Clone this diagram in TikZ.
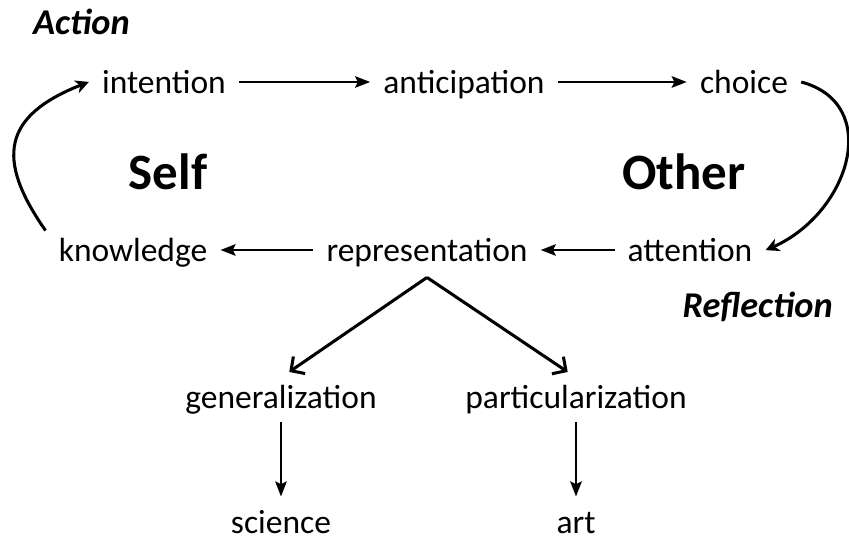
\documentclass[tikz,border=0pt]{standalone}
\usepackage{fontspec}
\setmainfont{Carlito}
\usetikzlibrary{positioning,arrows.meta,bending}
\tikzstyle{arrow} = [line width=2.3pt,-{Stealth[length=0.45cm,width=0.34cm,inset=0.08cm]}]
\tikzstyle{loop} = [line width=2.6pt,-{Stealth[length=0.4cm,width=0.4cm,inset=0.12cm,bend]}]
\tikzstyle{branch} = [line width=2.6pt,-{Straight Barb[length=0.3cm,width=0.62cm]}]

\begin{document}
\begin{tikzpicture}
			\tikzstyle{word} = [inner xsep=0.39cm, inner ysep=0pt, text height=26.5pt, text depth=6.3pt, font=\fontsize{28.6}{34}\selectfont];
			\tikzstyle{side} = [font=\fontsize{43.5}{50}\selectfont\bfseries];
			\tikzstyle{phase} = [inner sep=0pt, font=\fontsize{31}{36}\selectfont\bfseries\itshape];
			\useasboundingbox (0,0) rectangle (25.47,16.23);
			\node (action) [phase, anchor=west] at (0.99,15.57) {Action};
			\node (intention) [word] at (4.92,13.77) {intention};
			\node (anticipation) [word, right of=intention, node distance=9cm] {anticipation};
			\node (choice) [word, right of=anticipation, node distance=8.4cm] {choice};
			\node (self) [side] at (5.04,11.07) {Self};
			\node (other) [side] at (20.52,11.07) {Other};
			\node (knowledge) [word] at (3.99,8.73) {knowledge};
			\node (representation) [word] at (12.81,8.73) {representation};
			\node (attention) [word] at (20.7,8.73) {attention};
			\node (reflection) [phase, anchor=east] at (24.99,7.02) {Reflection};
			\node (generalization) [word] at (8.43,4.32) {generalization};
			\node (particularization) [word] at (17.28,4.32) {particularization};
			\node (science) [word, below of=generalization, node distance=3.75cm] {science};
			\node (art) [word, below of=particularization, node distance=3.75cm] {art};
			\draw [arrow] (intention) -- (anticipation);
			\draw [arrow] (anticipation) -- (choice);
			\draw [loop] (choice.east) to[out=-15, in=20, looseness=1.3] (attention.east);
			\draw [arrow] (attention) -- (representation);
			\draw [arrow] (representation) -- (knowledge);
			\draw [loop] (knowledge.north west) to[out=125, in=200, looseness=1.5] (intention.west);
			\draw [branch, shorten >=0.3cm] ([yshift=-0.24cm]representation.south) -- (generalization.north);
			\draw [branch, shorten >=0.3cm] ([yshift=-0.24cm]representation.south) -- (particularization.north);
			\draw [arrow, shorten <=0.18cm, shorten >=0.18cm] (generalization) -- (science);
			\draw [arrow, shorten <=0.18cm, shorten >=0.18cm] (particularization) -- (art);
		\end{tikzpicture}
\end{document}
